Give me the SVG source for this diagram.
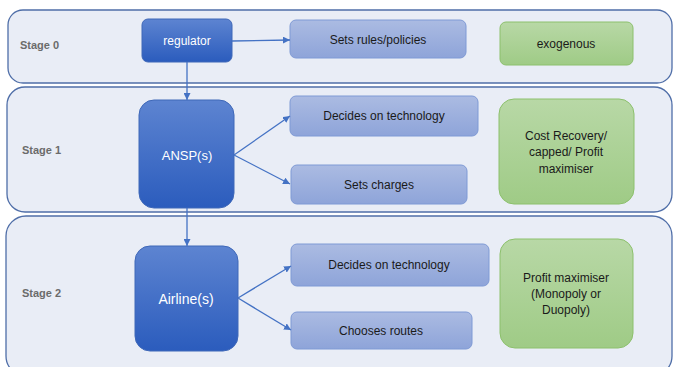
<svg xmlns="http://www.w3.org/2000/svg" width="673" height="367" viewBox="0 0 673 367">
  <defs>
    <linearGradient id="gBlue" x1="0" y1="0" x2="0" y2="1">
      <stop offset="0" stop-color="#5d84d1"/>
      <stop offset="1" stop-color="#2b5cbd"/>
    </linearGradient>
    <linearGradient id="gLight" x1="0" y1="0" x2="0" y2="1">
      <stop offset="0" stop-color="#abbbe2"/>
      <stop offset="1" stop-color="#8ea4d9"/>
    </linearGradient>
    <linearGradient id="gGreen" x1="0" y1="0" x2="0" y2="1">
      <stop offset="0" stop-color="#b8d8a6"/>
      <stop offset="1" stop-color="#9fcb86"/>
    </linearGradient>
    <marker id="arr" viewBox="0 0 10 10" refX="10" refY="5" markerWidth="7" markerHeight="7" orient="auto" markerUnits="userSpaceOnUse">
      <path d="M0,0 L10,5 L0,10 z" fill="#4472c4"/>
    </marker>
  </defs>
  <style>
    .panel { fill: #e9edf6; stroke: #4f6ea8; stroke-width: 1.3; }
    .stage { font-family: "Liberation Sans", Arial, sans-serif; font-size: 11px; font-weight: bold; fill: #6b6b6b; }
    .actor { fill: url(#gBlue); stroke: #3f68b8; stroke-width: 1; }
    .act { fill: url(#gLight); stroke: #7f9ad5; stroke-width: 1; }
    .obj { fill: url(#gGreen); stroke: #8cc06c; stroke-width: 1; }
    .wt { font-family: "Liberation Sans", Arial, sans-serif; fill: #ffffff; text-anchor: middle; }
    .bt { font-family: "Liberation Sans", Arial, sans-serif; font-size: 12px; fill: #1a1a1a; text-anchor: middle; }
    .conn { stroke: #4472c4; stroke-width: 1.3; fill: none; marker-end: url(#arr); }
  </style>

  <!-- stage panels -->
  <g id="stage0">
    <rect class="panel" x="8" y="10" width="664" height="73" rx="15"/>
    <text class="stage" x="20" y="49">Stage 0</text>
  </g>
  <g id="stage1">
    <rect class="panel" x="7" y="87" width="665" height="125" rx="18"/>
    <text class="stage" x="22" y="154">Stage 1</text>
  </g>
  <g id="stage2">
    <rect class="panel" x="6" y="216" width="666" height="160" rx="20"/>
    <text class="stage" x="22" y="297">Stage 2</text>
  </g>

  <!-- stage 0 nodes -->
  <g id="regulator">
    <rect class="actor" x="142" y="19" width="90" height="43" rx="6"/>
    <text class="wt" x="187" y="45" font-size="12">regulator</text>
  </g>
  <g id="rules">
    <rect class="act" x="290" y="20" width="176" height="38" rx="6"/>
    <text class="bt" x="378" y="44">Sets rules/policies</text>
  </g>
  <g id="exogenous">
    <rect class="obj" x="500" y="22" width="133" height="43" rx="6"/>
    <text class="bt" x="566" y="48">exogenous</text>
  </g>

  <!-- stage 1 nodes -->
  <g id="ansp">
    <rect class="actor" x="139" y="100" width="95" height="108" rx="15"/>
    <text class="wt" x="187" y="160" font-size="13">ANSP(s)</text>
  </g>
  <g id="tech1">
    <rect class="act" x="290" y="96" width="188" height="40" rx="6"/>
    <text class="bt" x="384" y="120">Decides on technology</text>
  </g>
  <g id="charges">
    <rect class="act" x="291" y="165" width="176" height="39" rx="6"/>
    <text class="bt" x="379" y="189">Sets charges</text>
  </g>
  <g id="ansp-objective">
    <rect class="obj" x="499" y="99" width="135" height="105" rx="15"/>
    <text class="bt" x="566" y="140">Cost Recovery/</text>
    <text class="bt" x="566" y="156">capped/ Profit</text>
    <text class="bt" x="566" y="173">maximiser</text>
  </g>

  <!-- stage 2 nodes -->
  <g id="airline">
    <rect class="actor" x="135" y="246" width="103" height="105" rx="15"/>
    <text class="wt" x="186" y="304" font-size="14">Airline(s)</text>
  </g>
  <g id="tech2">
    <rect class="act" x="291" y="244" width="198" height="42" rx="6"/>
    <text class="bt" x="389" y="269">Decides on technology</text>
  </g>
  <g id="routes">
    <rect class="act" x="291" y="312" width="181" height="37" rx="6"/>
    <text class="bt" x="381" y="335">Chooses routes</text>
  </g>
  <g id="airline-objective">
    <rect class="obj" x="500" y="239" width="133" height="109" rx="15"/>
    <text class="bt" x="566" y="282">Profit maximiser</text>
    <text class="bt" x="566" y="298">(Monopoly or</text>
    <text class="bt" x="566" y="314">Duopoly)</text>
  </g>

  <!-- connectors -->
  <g id="connectors">
    <line class="conn" x1="232" y1="41" x2="290" y2="40"/>
    <line class="conn" x1="187" y1="62" x2="187" y2="100"/>
    <line class="conn" x1="234" y1="155" x2="290" y2="116"/>
    <line class="conn" x1="234" y1="155" x2="290" y2="184"/>
    <line class="conn" x1="187" y1="208" x2="187" y2="246"/>
    <line class="conn" x1="238" y1="298" x2="291" y2="266"/>
    <line class="conn" x1="238" y1="298" x2="291" y2="330"/>
  </g>
</svg>
